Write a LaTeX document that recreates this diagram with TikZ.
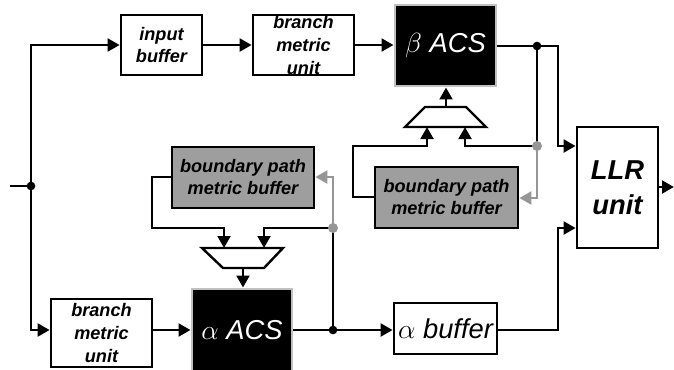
\documentclass[tikz,border=0pt]{standalone}
\usepackage{fontspec}
\setmainfont{Liberation Sans}
\usetikzlibrary{arrows.meta}
\definecolor{bufgray}{RGB}{158,158,158}
\definecolor{wiregray}{RGB}{150,150,150}
\definecolor{edgegray}{RGB}{192,192,192}
\tikzset{
  box/.style={draw=black,line width=2pt,fill=white,inner sep=0pt,align=center,anchor=center,
    font=\fontsize{13.6}{16.9}\selectfont\bfseries\itshape},
  graybox/.style={box,fill=bufgray,font=\fontsize{13.6}{16.5}\selectfont\bfseries\itshape},
  acsbox/.style={draw=edgegray,line width=2.2pt,fill=black,inner sep=0pt,align=center,anchor=center,
    text=white,font=\fontsize{20.5}{24}\selectfont\itshape},
  bigbox/.style={box,font=\fontsize{20.5}{26}\selectfont\bfseries\itshape},
  abufbox/.style={box,font=\fontsize{20.5}{24}\selectfont\itshape},
  wire/.style={line width=2.2pt,draw=black},
  arr/.style={wire,-{Triangle[length=9pt,width=9.5pt]}},
  garr/.style={line width=2.2pt,draw=wiregray,-{Triangle[length=9pt,width=9.5pt]}},
  dot/.style={circle,fill=black,inner sep=0pt,minimum size=6.5pt},
  gdot/.style={circle,fill=wiregray,inner sep=0pt,minimum size=7.5pt},
  mux/.style={line width=1.8pt,draw=black,fill=white},
}
\begin{document}
\begin{tikzpicture}[x=0.75pt,y=-0.75pt]
\useasboundingbox (0,0) rectangle (674,369);
\clip (0,0) rectangle (674,369);
% boxes
\node[box,minimum width=60.75pt,minimum height=45pt] (inbuf) at (161.5,45) {input\\buffer};
\node[box,minimum width=75.75pt,minimum height=45pt] (bmu1) at (303.5,45) {branch\\metric\\unit};
\node[acsbox,minimum width=75.75pt,minimum height=60.75pt] (bacs) at (445.5,45.5) {$\beta$ ACS};
\node[bigbox,minimum width=60.75pt,minimum height=90.75pt] (llr) at (617.5,187.5) {LLR\\unit};
\node[graybox,minimum width=106.5pt,minimum height=45.75pt] (bp1) at (243,177.5) {boundary path\\metric buffer};
\node[graybox,minimum width=107.25pt,minimum height=45.75pt] (bp2) at (446.5,197.5) {boundary path\\metric buffer};
\node[box,minimum width=75.75pt,minimum height=51pt] (bmu2) at (101.5,333) {branch\\metric\\unit};
\node[acsbox,minimum width=75pt,minimum height=75pt] (aacs) at (242,339) {};
\node[text=white,font=\fontsize{20.5}{24}\selectfont\itshape,inner sep=0pt] (aacslbl) at (242,330) {$\alpha$ ACS};
\node[abufbox,minimum width=77.25pt,minimum height=38.25pt] (abuf) at (445.5,328.5) {$\alpha$ buffer};
% muxes
\draw[mux] (202,248) -- (283,248) -- (264,268) -- (223,268) -- cycle;
\coordinate (maL) at (224,248);
\coordinate (maR) at (264,248);
\coordinate (maO) at (243,268);
\draw[mux] (425,107) -- (466,107) -- (486,127) -- (405,127) -- cycle;
\coordinate (mbL) at (427,127);
\coordinate (mbR) at (465,127);
\coordinate (mbO) at (446,107);
% junctions
\coordinate (in) at (10,186);
\node[dot] (j0) at (31,186) {};
\node[dot] (j1) at (537,46) {};
\node[dot] (j2) at (333,330) {};
\coordinate (g1) at (537,146);
\coordinate (g2) at (333,228);
% wires
\draw[wire] (in) -- (j0.center);
\draw[arr] (j0.center) |- (inbuf.west);
\draw[arr] (j0.center) |- (bmu2.west |- 0,330);
\draw[arr] (inbuf.east) -- (bmu1.west);
\draw[arr] (bmu1.east) -- (bacs.west |- bmu1.east);
\draw[wire] (bacs.east |- 0,46) -- (j1.center);
\draw[arr] (j1.center) -- (558,46) -- (558,146) -- (llr.west |- 0,146);
\draw[wire] (j1.center) -- (g1);
\draw[arr] (g1) -| (mbR);
\draw[garr] (g1) -- (537,198) -- (bp2.east |- 0,198);
\draw[arr] (bp2.west |- 0,197) -- (353,197) -- (353,146) -| (mbL);
\draw[arr] (mbO) -- (bacs.south -| mbO);
\draw[arr] (bmu2.east |- 0,330) -- (aacs.west |- 0,330);
\draw[wire] (aacs.east |- 0,330) -- (j2.center);
\draw[arr] (j2.center) -- (abuf.west |- 0,330);
\draw[wire] (j2.center) -- (g2);
\draw[arr] (g2) -| (maR);
\draw[garr] (g2) -- (333,177) -- (bp1.east |- 0,177);
\draw[arr] (bp1.west |- 0,177) -- (152,177) -- (152,228) -| (maL);
\draw[arr] (maO) -- (aacs.north -| maO);
\draw[arr] (abuf.east |- 0,330) -- (558,330) -- (558,228) -- (llr.west |- 0,228);
\draw[arr] (llr.east |- 0,187) -- (674,187);
\node[gdot] (g1d) at (g1) {};
\node[gdot] (g2d) at (g2) {};
\end{tikzpicture}
\end{document}
